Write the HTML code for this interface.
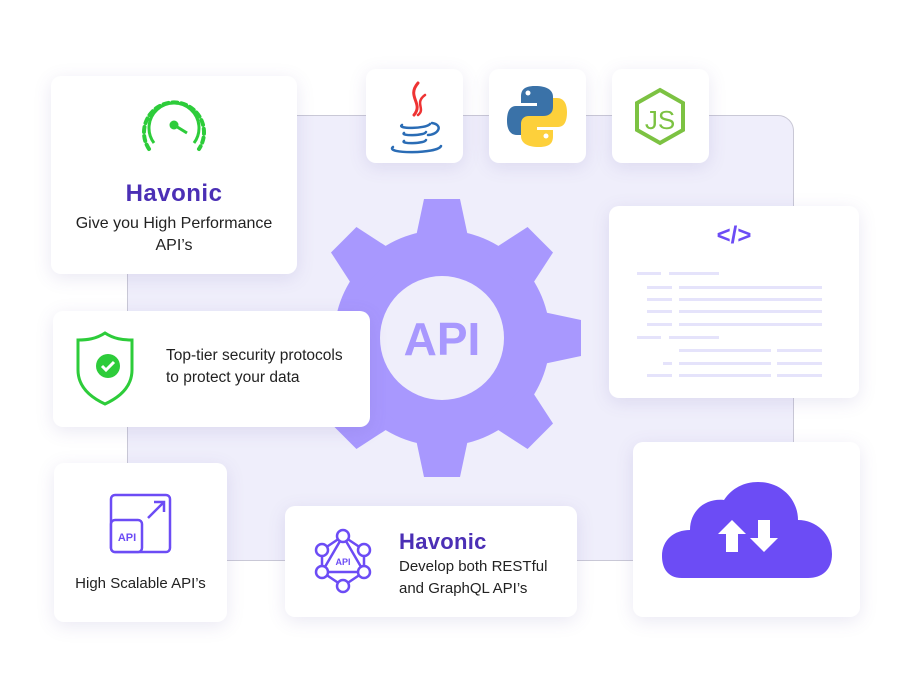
<!DOCTYPE html>
<html><head><meta charset="utf-8"><style>
*{margin:0;padding:0;box-sizing:border-box}
body{width:913px;height:679px;background:#fff;position:relative;overflow:hidden;font-family:"Liberation Sans",sans-serif;color:#222}
.card{position:absolute;background:#fff;border-radius:10px;box-shadow:0 4px 18px rgba(90,80,160,0.13)}
.panel{position:absolute;left:127px;top:115px;width:667px;height:446px;background:#efeefb;border:1px solid #c9c8d6;border-radius:16px}
.t{position:absolute;font-size:16px;line-height:22px;color:#222}
.h{position:absolute;font-size:24px;font-weight:bold;color:#4b2fb5;letter-spacing:0.5px}
.ln{position:absolute;height:3px;background:#e5e3fb}
</style></head><body>
<div class="panel"></div>
<svg style="position:absolute;left:0;top:0" width="913" height="679">
<g transform="translate(442,338)" fill="#a898fe">
<circle r="108"/>
<g id="tt"><polygon points="-18,-139 18,-139 28,-92 -28,-92"/></g>
<use href="#tt" transform="rotate(45)"/><use href="#tt" transform="rotate(90)"/><use href="#tt" transform="rotate(135)"/>
<use href="#tt" transform="rotate(180)"/><use href="#tt" transform="rotate(225)"/><use href="#tt" transform="rotate(270)"/><use href="#tt" transform="rotate(315)"/>
<circle r="62" fill="#efeefb"/>
<text x="0" y="17" text-anchor="middle" font-family="Liberation Sans" font-weight="bold" font-size="46" fill="#a898fe">API</text>
</g>
</svg>

<div class="card" style="left:366px;top:69px;width:97px;height:94px"></div>
<div class="card" style="left:489px;top:69px;width:97px;height:94px"></div>
<div class="card" style="left:612px;top:69px;width:97px;height:94px"></div>
<svg style="position:absolute;left:366px;top:69px" width="343" height="94">
<g fill="none" stroke-linecap="round">
<path d="M52 14 C40 28 58 34 48 46" stroke="#e33" stroke-width="3"/>
<path d="M59 26 C48 34 60 40 52 46" stroke="#e33" stroke-width="2.5"/>
<path d="M36 56 C30 60 60 60 64 55" stroke="#2a6cb5" stroke-width="2.5"/>
<path d="M38 64 C34 67 58 67 60 63" stroke="#2a6cb5" stroke-width="2.5"/>
<path d="M38 72 C34 75 58 75 60 71" stroke="#2a6cb5" stroke-width="2.5"/>
<path d="M27 78 C18 85 72 85 75 77" stroke="#2a6cb5" stroke-width="2.5"/>
<path d="M66 54 C78 56 72 66 62 66" stroke="#2a6cb5" stroke-width="2.5"/>
</g>
<g transform="translate(123,0)">
<path d="M46 17 C34 17 32 22 32 28 V34 H48 V37 H27 C20 37 18 44 18 52 C18 60 21 66 28 66 H32 V57 C32 51 36 48 42 48 H56 C61 48 64 45 64 40 V28 C64 21 58 17 46 17Z" fill="#3a72a8"/>
<path d="M50 90 C62 90 64 85 64 79 V73 H48 V70 H69 C76 70 78 63 78 55 C78 47 75 41 68 41 H64 V50 C64 56 60 59 54 59 H40 C35 59 32 62 32 67 V79 C32 86 38 90 50 90Z" fill="#fdd03b" transform="translate(0,-12)"/>
<circle cx="39" cy="24" r="2.5" fill="#fff"/><circle cx="57" cy="67" r="2.5" fill="#fff"/>
</g>
<g transform="translate(246,0)">
<polygon points="48,21 71,34 71,61 48,74 25,61 25,34" fill="none" stroke="#7cc242" stroke-width="4"/>
<text x="48" y="60" text-anchor="middle" font-family="Liberation Sans" font-size="26" fill="#7cc242">JS</text>
</g>
</svg>

<div class="card" style="left:51px;top:76px;width:246px;height:198px"></div>
<svg style="position:absolute;left:139px;top:93px" width="70" height="64">
<path d="M10 56 A30 30 0 1 1 60 56" fill="none" stroke="#2dcc3a" stroke-width="4" stroke-dasharray="5 4" stroke-linecap="round"/>
<path d="M15 50 A25 25 0 1 1 55 50" fill="none" stroke="#2dcc3a" stroke-width="3"/>
<circle cx="35" cy="32" r="4.5" fill="#2dcc3a"/><line x1="35" y1="32" x2="48" y2="40" stroke="#2dcc3a" stroke-width="3"/>
</svg>
<div class="h" style="left:51px;top:180px;width:246px;text-align:center">Havonic</div>
<div class="t" style="left:51px;top:213px;width:246px;text-align:center">Give you High Performance<br>API’s</div>

<div class="card" style="left:53px;top:311px;width:317px;height:116px"></div>
<svg style="position:absolute;left:74px;top:330px" width="62" height="78">
<path d="M31 3 C22 9 13 10 4 10 V40 C4 58 18 68 31 74 C44 68 58 58 58 40 V10 C49 10 40 9 31 3Z" fill="none" stroke="#2dcc3a" stroke-width="3"/>
<circle cx="34" cy="36" r="12" fill="#2dcc3a"/><path d="M28 36 L32 40 L40 32" fill="none" stroke="#fff" stroke-width="3"/>
</svg>
<div class="t" style="left:166px;top:345px;font-size:15.5px">Top-tier security protocols<br>to protect your data</div>

<div class="card" style="left:54px;top:463px;width:173px;height:159px"></div>
<svg style="position:absolute;left:108px;top:492px" width="66" height="62">
<rect x="3" y="3" width="59" height="57" rx="4" fill="none" stroke="#6c4cf5" stroke-width="2.5"/>
<rect x="3" y="28" width="31" height="32" rx="4" fill="#fff" stroke="#6c4cf5" stroke-width="2.5"/>
<text x="19" y="49" text-anchor="middle" font-family="Liberation Sans" font-weight="bold" font-size="11" fill="#6c4cf5">API</text>
<path d="M40 26 L56 10 M46 10 H56 V20" fill="none" stroke="#6c4cf5" stroke-width="2.5"/>
</svg>
<div class="t" style="left:54px;top:573px;width:173px;text-align:center;font-size:15px">High Scalable API’s</div>

<div class="card" style="left:285px;top:506px;width:292px;height:111px"></div>
<svg style="position:absolute;left:312px;top:528px" width="62" height="66">
<g fill="none" stroke="#6c4cf5" stroke-width="2.5">
<polygon points="31,8 52,22 52,44 31,58 10,44 10,22"/>
<polygon points="31,8 52,44 10,44"/>
<g fill="#fff"><circle cx="31" cy="8" r="6"/><circle cx="52" cy="22" r="6"/><circle cx="52" cy="44" r="6"/><circle cx="31" cy="58" r="6"/><circle cx="10" cy="44" r="6"/><circle cx="10" cy="22" r="6"/></g>
</g>
<text x="31" y="37" text-anchor="middle" font-family="Liberation Sans" font-weight="bold" font-size="9" fill="#6c4cf5">API</text>
</svg>
<div class="h" style="left:399px;top:529px;font-size:22px;letter-spacing:0.3px">Havonic</div>
<div class="t" style="left:399px;top:556px;font-size:15px">Develop both RESTful<br>and GraphQL API’s</div>

<div class="card" style="left:609px;top:206px;width:250px;height:192px"></div>
<div style="position:absolute;left:609px;top:222px;width:250px;text-align:center;font-weight:bold;font-size:24px;color:#6c4cf5">&lt;/&gt;</div>
<div class="ln" style="left:637px;top:272px;width:24px"></div><div class="ln" style="left:669px;top:272px;width:50px"></div>
<div class="ln" style="left:647px;top:286px;width:25px"></div><div class="ln" style="left:679px;top:286px;width:143px"></div>
<div class="ln" style="left:647px;top:298px;width:25px"></div><div class="ln" style="left:679px;top:298px;width:143px"></div>
<div class="ln" style="left:647px;top:310px;width:25px"></div><div class="ln" style="left:679px;top:310px;width:143px"></div>
<div class="ln" style="left:647px;top:323px;width:25px"></div><div class="ln" style="left:679px;top:323px;width:143px"></div>
<div class="ln" style="left:637px;top:336px;width:24px"></div><div class="ln" style="left:669px;top:336px;width:50px"></div>
<div class="ln" style="left:679px;top:349px;width:92px"></div><div class="ln" style="left:777px;top:349px;width:45px"></div>
<div class="ln" style="left:663px;top:362px;width:9px"></div><div class="ln" style="left:679px;top:362px;width:92px"></div><div class="ln" style="left:777px;top:362px;width:45px"></div>
<div class="ln" style="left:647px;top:374px;width:25px"></div><div class="ln" style="left:679px;top:374px;width:92px"></div><div class="ln" style="left:777px;top:374px;width:45px"></div>

<div class="card" style="left:633px;top:442px;width:227px;height:175px"></div>
<svg style="position:absolute;left:660px;top:478px" width="176" height="104">
<path d="M22 100 C6 100 2 88 2 78 C2 62 14 52 30 52 C30 32 46 20 64 22 C72 10 84 4 98 4 C122 4 138 22 138 42 C156 42 172 56 172 76 C172 92 162 100 148 100Z" fill="#6c4cf5"/>
<path d="M72 42 L58 56 H66 V74 H78 V56 H86Z" fill="#fff"/>
<path d="M104 74 L118 60 H110 V42 H98 V60 H90Z" fill="#fff"/>
</svg>
</body></html>
